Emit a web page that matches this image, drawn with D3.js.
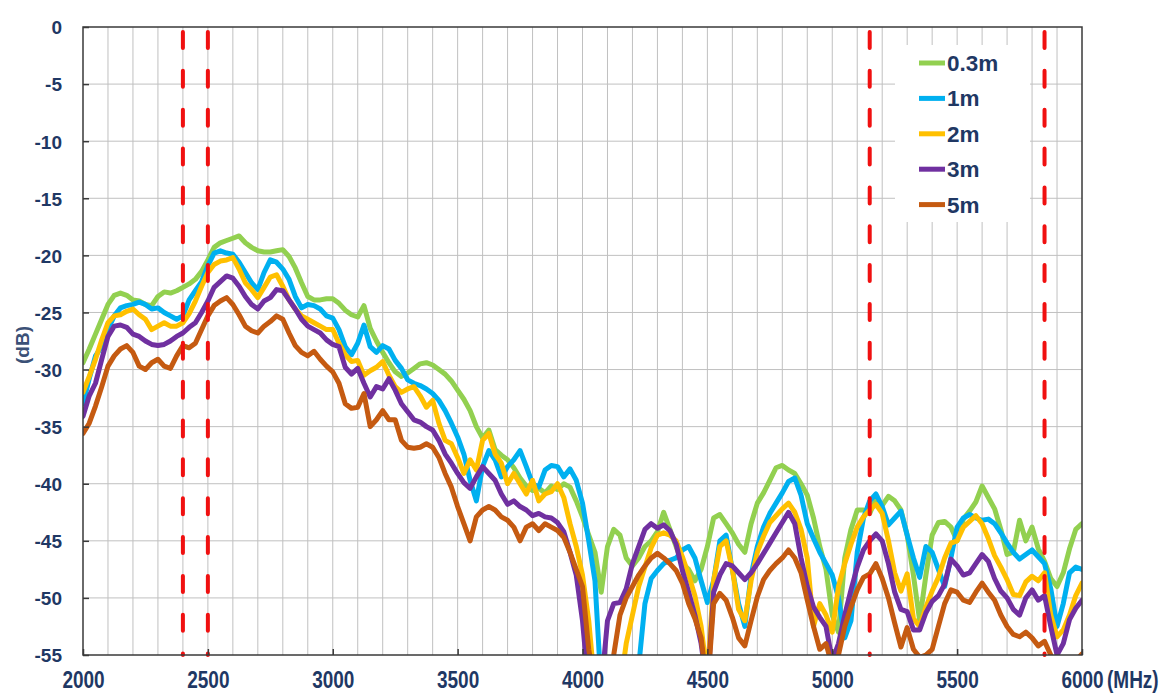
<!DOCTYPE html>
<html><head><meta charset="utf-8">
<script src="https://cdn.jsdelivr.net/npm/d3@7"></script>
<style>
html,body{margin:0;padding:0;background:#fff;}
svg{display:block;font-family:Arial,"Liberation Sans",sans-serif;}
</style></head><body>
<svg id="chart" width="1168" height="698"></svg>
<script>
// ---------- DATA ----------
const frequencies = [
2000,2025,2050,2075,2100,2125,2150,2175,
2200,2225,2250,2275,2300,2325,2350,2375,
2400,2425,2450,2475,2500,2525,2550,2575,
2600,2625,2650,2675,2700,2725,2750,2775,
2800,2825,2850,2875,2900,2925,2950,2975,
3000,3025,3050,3075,3100,3125,3150,3175,
3200,3225,3250,3275,3300,3325,3350,3375,
3400,3425,3450,3475,3500,3525,3550,3575,
3600,3625,3650,3675,3700,3725,3750,3775,
3800,3825,3850,3875,3900,3925,3950,3975,
4000,4025,4050,4075,4100,4125,4150,4175,
4200,4225,4250,4275,4300,4325,4350,4375,
4400,4425,4450,4475,4500,4525,4550,4575,
4600,4625,4650,4675,4700,4725,4750,4775,
4800,4825,4850,4875,4900,4925,4950,4975,
5000,5025,5050,5075,5100,5125,5150,5175,
5200,5225,5250,5275,5300,5325,5350,5375,
5400,5425,5450,5475,5500,5525,5550,5575,
5600,5625,5650,5675,5700,5725,5750,5775,
5800,5825,5850,5875,5900,5925,5950,5975,
6000];

const values_03m = [
-29.4,-28.2,-26.9,-25.6,-24.3,-23.5,-23.3,-23.5,
-23.9,-24.0,-24.3,-24.4,-23.6,-23.2,-23.3,-23.1,
-22.8,-22.5,-22.1,-21.4,-20.4,-19.3,-18.9,-18.7,
-18.5,-18.3,-18.9,-19.3,-19.6,-19.7,-19.7,-19.6,
-19.5,-20.1,-21.1,-22.4,-23.6,-23.9,-23.9,-23.8,
-23.8,-24.2,-24.8,-25.2,-25.4,-24.4,-26.4,-27.5,
-28.5,-29.4,-30.2,-30.6,-30.3,-29.9,-29.5,-29.4,
-29.6,-30.0,-30.4,-31.0,-31.8,-32.6,-33.6,-35.0,
-36.0,-35.3,-37.0,-37.5,-37.9,-38.6,-39.5,-40.2,
-40.6,-40.4,-40.8,-40.2,-40.5,-40.0,-40.3,-41.5,
-42.9,-44.5,-46.0,-49.5,-45.5,-44.0,-44.5,-46.5,
-47.2,-46.5,-45.5,-45.0,-44.2,-42.5,-44.0,-45.5,
-47.0,-47.5,-48.5,-47.5,-45.5,-43.0,-42.7,-43.5,
-44.3,-45.3,-46.0,-43.5,-41.7,-40.8,-39.7,-38.6,
-38.4,-38.8,-39.1,-40.0,-41.0,-43.0,-45.5,-47.5,
-51.5,-53.0,-46.5,-44.0,-42.3,-42.3,-42.6,-41.3,
-41.9,-41.1,-41.5,-42.3,-44.5,-48.0,-52.0,-48.0,
-44.5,-43.4,-43.3,-43.8,-45.0,-43.1,-42.4,-41.6,
-40.2,-41.2,-42.2,-44.0,-46.2,-46.0,-43.2,-45.0,
-43.8,-45.7,-46.8,-48.3,-49.0,-47.8,-45.7,-44.0,
-43.5];

const values_1m = [
-33.0,-30.8,-28.8,-28.0,-26.5,-25.3,-24.6,-24.4,
-24.3,-24.1,-24.3,-24.7,-24.6,-25.0,-25.3,-25.6,
-25.3,-23.9,-23.1,-22.3,-20.9,-19.8,-19.6,-19.8,
-19.9,-20.6,-21.5,-22.4,-23.0,-21.5,-20.4,-20.6,
-21.2,-22.1,-23.6,-24.6,-24.3,-24.4,-24.7,-25.3,
-25.5,-26.5,-28.0,-28.7,-27.7,-26.1,-28.0,-28.5,
-27.9,-28.2,-29.2,-29.9,-30.9,-31.2,-31.4,-31.7,
-32.1,-32.7,-33.6,-34.7,-35.9,-37.4,-39.7,-41.5,
-38.5,-37.1,-37.9,-39.4,-38.5,-37.9,-37.1,-38.5,
-40.0,-40.3,-38.8,-38.4,-38.5,-39.4,-38.7,-39.7,
-41.7,-45.0,-48.5,-58,-58,-58,-58,-58,
-58,-56.0,-50.5,-48.3,-47.6,-47.0,-46.7,-46.5,
-45.8,-45.5,-46.5,-48.5,-50.4,-48.5,-45.0,-44.5,
-47.5,-50.5,-52.5,-48.0,-45.5,-43.8,-42.6,-41.7,
-40.8,-39.8,-39.5,-41.0,-43.5,-44.8,-46.0,-47.0,
-48.0,-50.0,-53.5,-52.0,-46.0,-43.0,-41.5,-40.9,
-42.0,-43.6,-43.0,-42.4,-44.5,-46.5,-48.2,-45.5,
-46.0,-47.5,-49.0,-46.5,-43.8,-43.0,-42.7,-43.0,
-43.2,-43.1,-43.5,-44.3,-45.2,-46.0,-46.6,-46.2,
-45.8,-46.4,-47.0,-49.2,-52.5,-50.5,-47.8,-47.3,
-47.5];

const values_2m = [
-32.0,-30.6,-29.1,-27.4,-25.9,-25.3,-25.2,-24.9,
-24.7,-25.2,-25.6,-26.5,-26.2,-25.9,-26.2,-26.2,
-25.9,-25.1,-24.0,-22.7,-21.5,-20.8,-20.5,-20.4,
-20.2,-21.2,-22.4,-23.0,-23.7,-22.8,-21.9,-21.7,
-22.7,-23.9,-24.7,-25.3,-25.6,-25.9,-26.2,-26.5,
-26.5,-27.7,-28.7,-29.3,-29.2,-30.5,-30.1,-29.8,
-29.3,-30.5,-31.5,-32.0,-31.7,-31.5,-32.3,-33.3,
-32.7,-34.7,-36.2,-36.5,-37.7,-39.1,-37.9,-38.8,
-36.2,-35.6,-37.4,-38.2,-40.0,-39.1,-40.0,-40.9,
-39.7,-41.5,-40.9,-40.7,-40.0,-41.2,-43.5,-45.5,
-48.0,-52.0,-58,-58,-58,-58,-58,-54.0,
-51.5,-49.0,-47.3,-45.6,-44.5,-44.3,-44.5,-45.0,
-46.4,-48.0,-49.8,-52.5,-57.0,-48.5,-45.5,-45.0,
-47.5,-51.0,-52.0,-48.5,-46.0,-44.6,-43.4,-42.8,
-42.2,-41.7,-42.5,-44.0,-46.5,-52.5,-50.5,-51.5,
-53.0,-49.0,-47.0,-45.3,-43.8,-42.9,-42.3,-41.8,
-42.6,-45.0,-47.8,-49.4,-47.9,-51.8,-52.5,-50.8,
-49.4,-48.2,-46.5,-45.2,-45.0,-43.8,-43.3,-42.8,
-43.5,-44.8,-46.3,-47.3,-48.4,-49.7,-49.8,-48.6,
-48.1,-48.5,-47.8,-51.5,-53.4,-52.8,-51.5,-49.8,
-48.7];

const values_3m = [
-34.1,-32.3,-31.2,-29.1,-27.1,-26.2,-26.1,-26.3,
-26.9,-27.1,-27.5,-27.8,-27.9,-27.8,-27.5,-27.1,
-26.8,-26.3,-25.9,-25.0,-24.0,-22.8,-22.3,-21.8,
-22.0,-22.7,-23.6,-24.3,-24.7,-24.0,-23.7,-23.0,
-23.1,-23.9,-24.7,-25.6,-26.2,-26.5,-26.8,-27.4,
-27.8,-28.0,-29.8,-30.4,-29.9,-31.2,-32.4,-31.5,
-31.7,-30.8,-31.8,-33.0,-33.7,-34.4,-34.6,-35.0,
-35.3,-36.2,-37.4,-38.2,-39.1,-39.9,-40.4,-39.4,
-38.5,-39.1,-39.7,-40.9,-41.8,-41.5,-42.0,-42.3,
-42.8,-42.6,-42.9,-43.0,-43.4,-44.2,-46.0,-48.0,
-52.0,-58,-58,-58,-52.0,-50.5,-50.4,-49.2,
-47.0,-45.5,-44.0,-43.5,-43.9,-43.6,-44.1,-45.3,
-47.6,-49.5,-51.5,-54.0,-58,-49.5,-48.0,-47.0,
-47.2,-47.8,-48.4,-47.8,-47.0,-46.1,-45.2,-44.3,
-43.4,-42.5,-43.5,-46.5,-49.0,-50.8,-51.7,-52.5,
-55.5,-54.0,-51.5,-49.3,-47.3,-45.8,-45.0,-44.4,
-45.0,-47.0,-49.5,-51.0,-51.2,-52.8,-52.8,-51.3,
-50.3,-49.8,-48.8,-46.6,-47.2,-48.0,-47.8,-47.0,
-46.2,-46.8,-48.3,-49.4,-50.0,-51.0,-51.5,-50.0,
-49.3,-50.2,-49.8,-52.5,-55.0,-54.0,-51.9,-50.9,
-50.2];

const values_5m = [
-35.6,-34.7,-33.2,-31.5,-29.7,-28.8,-28.2,-27.9,
-28.5,-29.7,-30.0,-29.4,-29.1,-29.7,-29.9,-28.8,
-27.9,-28.1,-27.7,-26.5,-25.3,-24.4,-24.0,-23.7,
-24.3,-25.2,-26.2,-26.6,-26.8,-26.2,-25.8,-25.3,
-25.6,-26.8,-27.9,-28.5,-28.8,-28.4,-29.1,-29.7,
-30.2,-31.2,-33.0,-33.4,-33.3,-32.1,-35.0,-34.4,
-33.6,-34.4,-34.4,-36.2,-36.8,-36.9,-36.8,-36.5,
-36.8,-37.7,-39.1,-40.3,-42.0,-43.5,-45.0,-42.9,
-42.3,-42.0,-42.3,-42.9,-43.2,-43.8,-45.0,-43.8,
-43.5,-44.1,-43.5,-43.8,-44.1,-44.7,-46.0,-47.5,
-49.0,-54.5,-58,-58,-58,-55.0,-51.5,-50.0,
-49.0,-48.0,-47.2,-46.5,-46.1,-46.5,-47.0,-47.6,
-48.7,-50.5,-51.8,-53.5,-58,-50.5,-49.6,-50.2,
-51.7,-53.5,-54.2,-52.0,-49.9,-48.4,-47.6,-47.0,
-46.5,-45.8,-46.5,-47.8,-50.2,-52.5,-54.5,-54.0,
-56.0,-55.0,-52.5,-50.8,-49.3,-48.2,-47.9,-47.0,
-48.3,-50.0,-52.2,-54.3,-52.6,-54.5,-55.2,-55.0,
-54.5,-52.5,-50.5,-49.3,-49.5,-50.2,-50.4,-49.5,
-48.7,-49.5,-50.2,-51.5,-52.5,-53.2,-53.4,-53.0,
-53.5,-54.2,-53.8,-55.0,-56.5,-57.0,-56.0,-55.5,
-54.9];

const seriesNames = ["0.3m", "1m", "2m", "3m", "5m"];
const seriesValues = [values_03m, values_1m, values_2m, values_3m, values_5m];
const seriesColors = ["#92D050", "#00B0F0", "#FFC000", "#7030A0", "#C55A11"];
const bandEdges = [2400, 2500, 5150, 5850];
const xTickValues = [2000, 2500, 3000, 3500, 4000, 4500, 5000, 5500, 6000];
const yTickValues = [0, -5, -10, -15, -20, -25, -30, -35, -40, -45, -50, -55];
const xUnit = "(MHz)";
const yUnit = "(dB)";

// ---------- LAYOUT ----------
const L = 83, R = 1082, T = 27, B = 655;
const navy = "#1F3864";
const svg = d3.select("#chart");
const x = d3.scaleLinear().domain([2000, 6000]).range([L, R]);
const y = d3.scaleLinear().domain([-55, 0]).range([B, T]);

// gridlines
const grid = svg.append("g");
grid.selectAll("line.v").data(d3.range(2100, 6000, 100)).join("line")
  .attr("x1", d => x(d)).attr("x2", d => x(d)).attr("y1", T).attr("y2", B)
  .attr("stroke", "#C0C0C0").attr("stroke-width", 1);
grid.selectAll("line.h").data(yTickValues.slice(1, -1)).join("line")
  .attr("x1", L).attr("x2", R).attr("y1", d => y(d)).attr("y2", d => y(d))
  .attr("stroke", "#C0C0C0").attr("stroke-width", 1);

// clip
svg.append("clipPath").attr("id", "plotclip").append("rect")
  .attr("x", L).attr("y", T).attr("width", R - L).attr("height", B - T);

// series
const line = d3.line().x(d => x(d.f)).y(d => y(d.v));
const lines = svg.append("g").attr("clip-path", "url(#plotclip)");
seriesValues.forEach((vals, i) => {
  const n = Math.min(vals.length, frequencies.length);
  const data = [];
  for (let k = 0; k < n; k++) data.push({f: frequencies[k], v: vals[k]});
  lines.append("path").datum(data)
    .attr("d", line)
    .attr("fill", "none")
    .attr("stroke", seriesColors[i])
    .attr("stroke-width", 5)
    .attr("stroke-linejoin", "round")
    .attr("stroke-linecap", "round");
});

// red band edges
svg.append("g").selectAll("line").data(bandEdges).join("line")
  .attr("x1", d => x(d)).attr("x2", d => x(d))
  .attr("y1", T + 5).attr("y2", B)
  .attr("stroke", "#F01010").attr("stroke-width", 4)
  .attr("stroke-linecap", "round")
  .attr("stroke-dasharray", "16 22.85");

// legend
const lg = svg.append("g");
lg.append("rect").attr("x", 895).attr("y", 45).attr("width", 135).attr("height", 177).attr("fill", "#fff");
seriesNames.forEach((name, i) => {
  const cy = 63 + i * 35.4;
  lg.append("line").attr("x1", 919).attr("x2", 945).attr("y1", cy).attr("y2", cy)
    .attr("stroke", seriesColors[i]).attr("stroke-width", 5);
  lg.append("text").attr("x", 947).attr("y", cy + 8)
    .attr("font-size", 22.5).attr("font-weight", "bold").attr("fill", navy)
    .text(name);
});

// border
svg.append("rect").attr("x", L).attr("y", T).attr("width", R - L).attr("height", B - T)
  .attr("fill", "none").attr("stroke", "#3A3A3A").attr("stroke-width", 1.5);

// axes
const xAxis = d3.axisBottom(x).tickValues(xTickValues).tickSizeInner(-6).tickSizeOuter(0).tickFormat(d => String(d));
const gx = svg.append("g").attr("transform", `translate(0,${B})`).call(xAxis);
gx.select(".domain").remove();
gx.selectAll(".tick line").attr("stroke", "#3A3A3A").attr("stroke-width", 1.5);
gx.selectAll(".tick text")
  .attr("y", 0).attr("dy", null)
  .attr("transform", "translate(0,33) scale(1,1.23)")
  .attr("font-size", 19).attr("font-weight", "bold").attr("fill", navy)
  .attr("font-family", "Arial, 'Liberation Sans', sans-serif");

svg.append("text").attr("x", 1107).attr("y", 0)
  .attr("transform", `translate(0,688) scale(1,1.23)`)
  .attr("font-size", 19).attr("font-weight", "bold").attr("fill", navy)
  .text(xUnit);

const yAxis = d3.axisLeft(y).tickValues(yTickValues).tickSizeInner(-6).tickSizeOuter(0).tickFormat(d => String(d));
const gy = svg.append("g").attr("transform", `translate(${L},0)`).call(yAxis);
gy.select(".domain").remove();
gy.selectAll(".tick line").attr("stroke", "#3A3A3A").attr("stroke-width", 1.5);
gy.selectAll(".tick text")
  .attr("x", -21).attr("dy", "0.36em")
  .attr("font-size", 19).attr("font-weight", "bold").attr("fill", navy)
  .attr("font-family", "Arial, 'Liberation Sans', sans-serif");

svg.append("text")
  .attr("transform", "translate(29,345) rotate(-90)")
  .attr("text-anchor", "middle")
  .attr("font-size", 19).attr("font-weight", "bold").attr("fill", "#3B5177")
  .text(yUnit);
</script>
</body></html>
